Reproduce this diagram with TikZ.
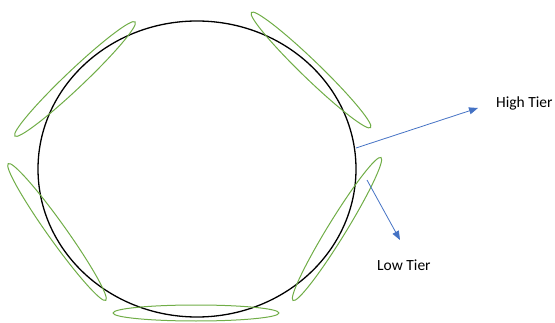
\documentclass[tikz,border=0pt]{standalone}
\usepackage{fontspec}
\setmainfont{Carlito}
\usetikzlibrary{arrows.meta}
\definecolor{ringgreen}{HTML}{70AD47}
\definecolor{arrowblue}{HTML}{4472C4}
\begin{document}
\begin{tikzpicture}[x=1pt,y=1pt,
  ring/.style={draw=black,line width=1.3pt},
  tier/.style={draw=ringgreen,line width=1pt},
  pointer/.style={draw=arrowblue,line width=0.8pt,-{Triangle[length=9pt,width=7pt]}},
  lbl/.style={font=\fontsize{15.5}{18}\selectfont,anchor=west,inner sep=0pt}]
\useasboundingbox (0,0) rectangle (555,322);
\draw[ring] (197,153) ellipse [x radius=159, y radius=148];
\draw[tier] (75,243) ellipse [x radius=83, y radius=9, rotate=43.5];
\draw[tier] (311,252) ellipse [x radius=83, y radius=9, rotate=-44];
\draw[tier] (57,90) ellipse [x radius=84, y radius=9, rotate=-54.5];
\draw[tier] (196,9) ellipse [x radius=83, y radius=8];
\draw[tier] (337,93) ellipse [x radius=84, y radius=9, rotate=58.4];
\coordinate (hs) at (356,174);
\coordinate (he) at (478,214);
\coordinate (ls) at (367,142);
\coordinate (le) at (400,82);
\node[lbl] (high) at (496,219) {High Tier};
\node[lbl] (low) at (377,57) {Low Tier};
\draw[pointer] (hs) -- (he);
\draw[pointer] (ls) -- (le);
\end{tikzpicture}
\end{document}
